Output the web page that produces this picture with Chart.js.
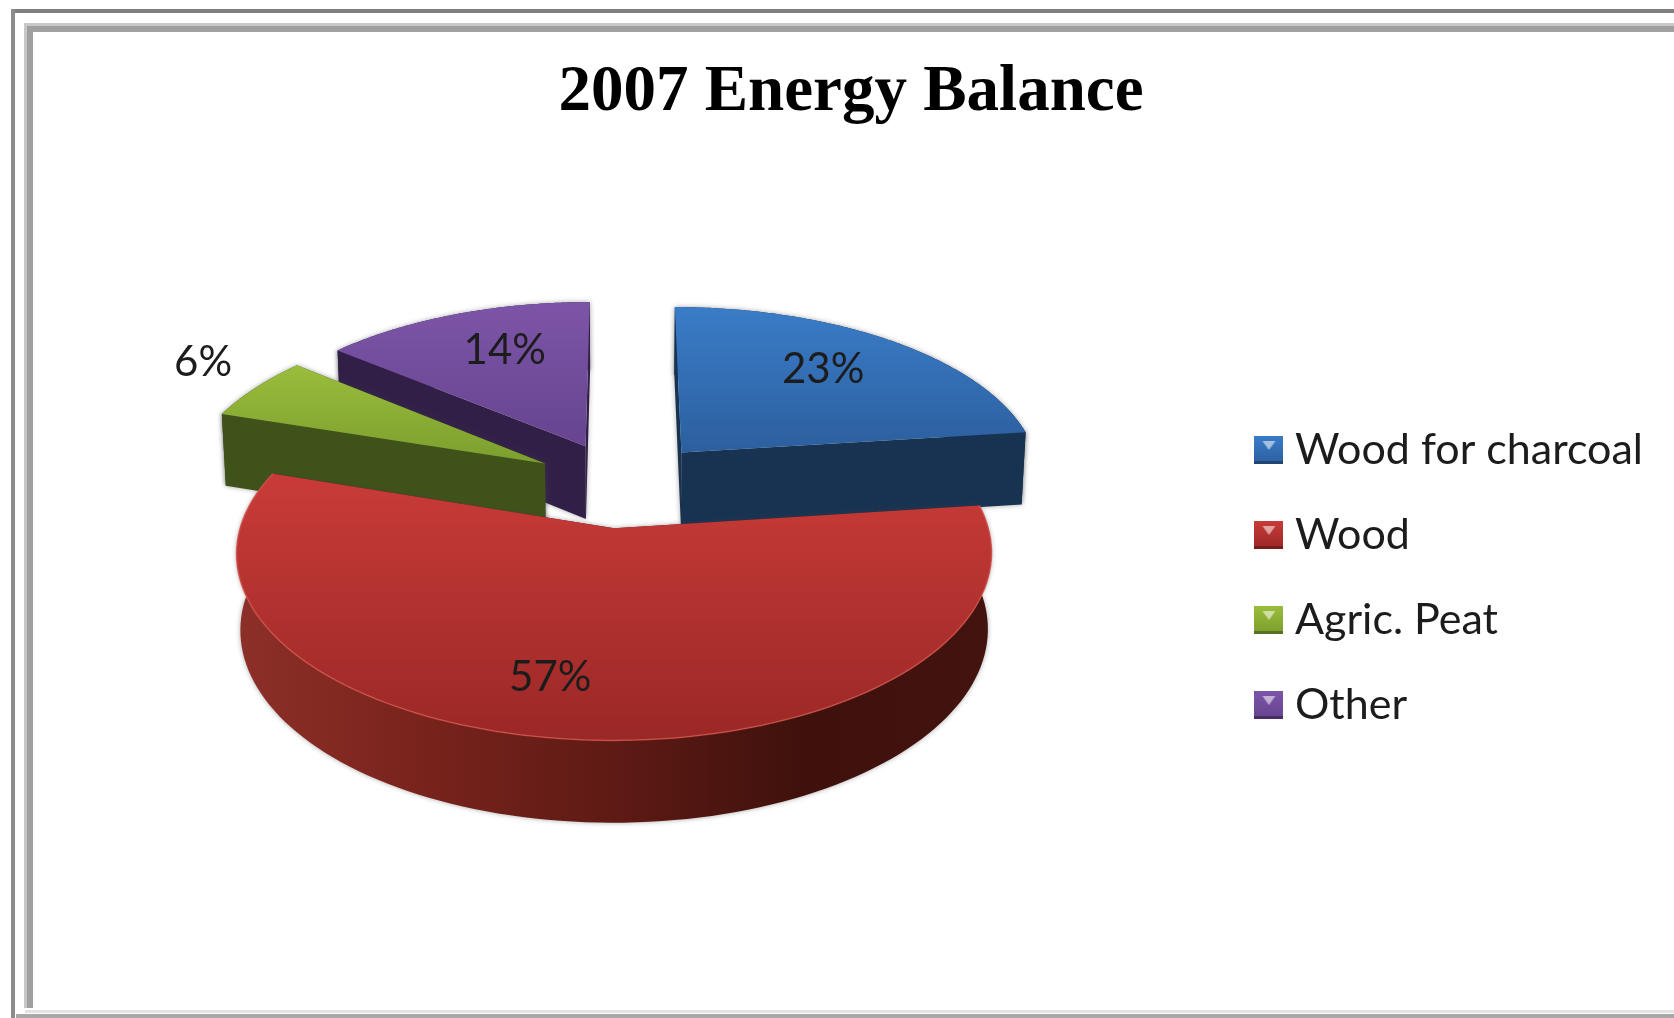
<!DOCTYPE html>
<html><head><meta charset="utf-8">
<style>
html,body{margin:0;padding:0;background:#fff;width:1674px;height:1018px;overflow:hidden}
.f{position:absolute}
#frame{position:absolute;left:0;top:0;width:1690px;height:1030px;filter:blur(0.7px)}
#wrap{position:absolute;left:35px;top:33px;width:1632px;height:980px;filter:blur(0.5px)}
</style>
<script src="https://cdn.jsdelivr.net/npm/chart.js@4"></script>
</head><body>
<div id="frame">
<div class="f" style="left:11px;top:9px;right:0;height:4px;background:#7f7f7f"></div>
<div class="f" style="left:11px;top:9px;width:4px;height:1009px;background:#8c8c8c"></div>
<div class="f" style="left:16px;top:1014px;right:0;height:4px;background:#a8a8a8"></div>
<div class="f" style="left:24px;top:23px;right:0;height:3px;background:#c8c8c8"></div>
<div class="f" style="left:24px;top:26px;right:0;height:6px;background:#a0a0a0"></div>
<div class="f" style="left:24px;top:23px;width:3px;height:985px;background:#c8c8c8"></div>
<div class="f" style="left:27px;top:26px;width:6px;height:982px;background:#a0a0a0"></div>
<div class="f" style="left:25px;top:1010px;right:0;height:3px;background:#e4e4e4"></div>
</div>
<div id="wrap"><canvas id="c" width="1632" height="980"></canvas></div>
<script>
const categories = ["Wood for charcoal", "Wood", "Agric. Peat", "Other"];
const shares = [23, 57, 6, 14];
const baseColors = ["#2f6cb4", "#b5302e", "#86a935", "#6f4b9c"];
const topLight = ["#3a7cc8", "#c93b38", "#9abd3c", "#7d55a8"];
const topDark = ["#2c5f9e", "#9a2826", "#7c9e2e", "#66448f"];
const sideColors = ["#183252", "#5c1812", "#3f521a", "#321f48"];
const TITLE = "2007 Energy Balance";

// perspective view of the pie plane, in canvas pixels
const VIEW = {cx: 588, cy: 451, A: 362, B: 172, k: 0.13, depth: 74, explode: 0.25, floorShrink: 0.99};
const SMALL_SHARE = 10;
// small shifts of the value labels, in pixels
const LABEL_SHIFT = [[-12, 0], [-35, 4], [15, -8], [16, 2]];

function project(u, v) {
  const den = 1 + VIEW.k * v;
  return {x: VIEW.cx + VIEW.A * u / den, y: VIEW.cy - VIEW.B * v / den, s: 1 / den};
}
function slicePoint(mid, ang, r) {
  return project(VIEW.explode * Math.cos(mid) + r * Math.cos(ang),
                 -VIEW.explode * Math.sin(mid) - r * Math.sin(ang));
}
function poly(ctx, pts) {
  ctx.beginPath();
  pts.forEach((p, i) => i ? ctx.lineTo(p.x, p.y) : ctx.moveTo(p.x, p.y));
  ctx.closePath();
}
function drop(p) {
  return {x: VIEW.cx + (p.x - VIEW.cx) * VIEW.floorShrink, y: p.y + VIEW.depth * Math.pow(p.s, 0.6)};
}

const pie3d = {
  id: "pie3d",
  beforeDatasetsDraw(chart) {
    const ctx = chart.ctx, arcs = chart.getDatasetMeta(0).data;
    const order = [0, 3, 2, 1];
    order.forEach(i => {
      const a = arcs[i], mid = (a.startAngle + a.endAngle) / 2;
      const apex = slicePoint(mid, 0, 0);
      const rim = [];
      const n = 120;
      for (let j = 0; j <= n; j++) rim.push(slicePoint(mid, a.startAngle + (a.endAngle - a.startAngle) * j / n, 1));
      // outer band
      ctx.save();
      ctx.shadowColor = "rgba(60,60,60,0.45)";
      ctx.shadowBlur = 5;
      const band = rim.concat(rim.map(drop).reverse());
      let fill = sideColors[i];
      if (i === 1) {
        const g = ctx.createLinearGradient(VIEW.cx - 380, 0, VIEW.cx + 370, 0);
        g.addColorStop(0, "#8c2f28");
        g.addColorStop(0.22, "#7a241d");
        g.addColorStop(0.5, "#5e1a14");
        g.addColorStop(0.75, "#3f110c");
        g.addColorStop(1, "#43130f");
        fill = g;
      }
      ctx.fillStyle = fill;
      poly(ctx, band); ctx.fill();
      // cut faces, far one first
      const cuts = [rim[0], rim[n]].sort((p, q) => p.y - q.y);
      ctx.fillStyle = sideColors[i];
      cuts.forEach(p => {
        poly(ctx, [apex, p, drop(p), drop(apex)]);
        ctx.fill();
      });
      ctx.restore();
      // top face
      const ys = rim.map(p => p.y).concat(apex.y);
      const g = ctx.createLinearGradient(0, Math.min(...ys), 0, Math.max(...ys));
      g.addColorStop(0, topLight[i]);
      g.addColorStop(1, topDark[i]);
      ctx.fillStyle = g;
      poly(ctx, [apex].concat(rim));
      ctx.fill();
      if (i === 1) {
        ctx.strokeStyle = "rgba(214,84,76,0.75)";
        ctx.lineWidth = 1.5;
        ctx.beginPath();
        rim.forEach((p, j) => j ? ctx.lineTo(p.x, p.y) : ctx.moveTo(p.x, p.y));
        ctx.stroke();
      }
    });
    // labels
    ctx.save();
    ctx.font = "42px Lato";
    ctx.fillStyle = "#1c1c1c";
    ctx.textAlign = "center";
    ctx.textBaseline = "middle";
    arcs.forEach((a, i) => {
      const mid = (a.startAngle + a.endAngle) / 2;
      const r = shares[i] < SMALL_SHARE ? 1.25 : 0.72;
      const p = slicePoint(mid, mid, r);
      ctx.fillText(shares[i] + "%", p.x + LABEL_SHIFT[i][0], p.y + LABEL_SHIFT[i][1]);
    });
    ctx.restore();
    return false;
  }
};

function icon(i) {
  const c = document.createElement("canvas");
  c.width = 29; c.height = 28;
  const x = c.getContext("2d");
  const g = x.createLinearGradient(0, 0, 0, 28);
  g.addColorStop(0, topLight[i]);
  g.addColorStop(1, topDark[i]);
  x.fillStyle = g; x.fillRect(0, 0, 29, 28);
  x.fillStyle = sideColors[i]; x.globalAlpha = 0.6; x.fillRect(0, 25, 29, 3);
  x.globalAlpha = 0.55; x.fillStyle = "#fff";
  x.beginPath(); x.moveTo(8, 5); x.lineTo(21, 5); x.lineTo(14.5, 14); x.closePath(); x.fill();
  return c;
}

new Chart(document.getElementById("c"), {
  type: "pie",
  plugins: [pie3d],
  data: {labels: categories, datasets: [{data: shares, backgroundColor: baseColors, borderWidth: 0}]},
  options: {
    responsive: false,
    animation: false,
    rotation: 0,
    layout: {padding: {top: 0, right: 14, bottom: 0, left: 14}},
    plugins: {
      tooltip: {enabled: false},
      title: {display: true, text: TITLE, color: "#000",
        font: {family: "Liberation Serif", weight: "bold", size: 65},
        padding: {top: 21, bottom: 10}},
      legend: {
        position: "right", align: "center", fullSize: false,
        labels: {
          font: {family: "Lato", size: 43}, color: "#1c1c1c",
          usePointStyle: true, boxWidth: 9, boxHeight: 28, padding: 42,
          generateLabels(chart) {
            return Chart.overrides.doughnut.plugins.legend.labels.generateLabels(chart)
              .map((it, i) => Object.assign(it, {pointStyle: icon(i)}));
          }
        }
      }
    }
  }
});
</script>
</body></html>
